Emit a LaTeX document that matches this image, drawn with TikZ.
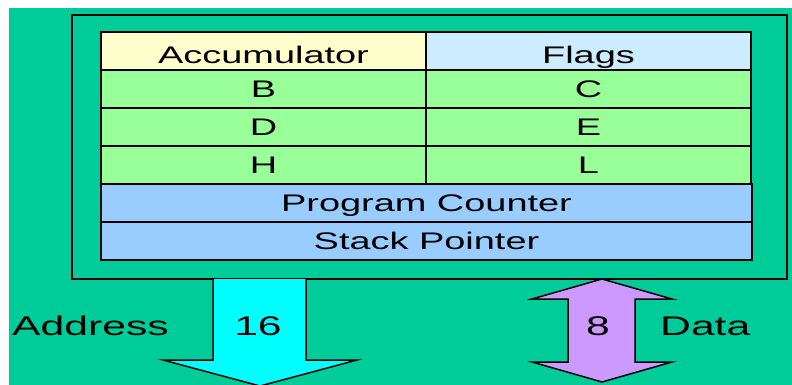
\documentclass[tikz,border=0pt]{standalone}
\usepackage{fontspec}
\setmainfont{Liberation Sans}[FakeStretch=1.58]
\usetikzlibrary{positioning}
\definecolor{fondoV}{HTML}{00CC99}
\definecolor{amarilloC}{HTML}{FFFFCC}
\definecolor{celesteC}{HTML}{CCECFF}
\definecolor{verdeR}{HTML}{99FF99}
\definecolor{azulR}{HTML}{99CCFF}
\definecolor{cianF}{HTML}{00FFFF}
\definecolor{violetaF}{HTML}{CC99FF}

\begin{document}
\begin{tikzpicture}[x=1pt,y=-1pt,
    reg/.style={draw=black,line width=1.2pt,minimum width=325pt,minimum height=38pt,
      inner sep=0pt,outer sep=0pt,font=\fontsize{24}{24}\selectfont,
      text height=17pt,text depth=0pt},
    cabecera/.style={reg,text height=25pt},
    ancho/.style={reg,minimum width=651pt,fill=azulR},
    etiq/.style={inner sep=0pt,font=\fontsize{27}{27}\selectfont,text height=19.3pt,text depth=0pt},
    flecha/.style={draw=black,line width=1.5pt,line join=miter}]
  \useasboundingbox (0,0) rectangle (792,385);
  \fill[white] (0,0) rectangle (792,385);
  \fill[fondoV] (9,8) rectangle (792,385);
  % CPU frame
  \node[draw=black,line width=2pt,minimum width=715pt,minimum height=264pt,
    inner sep=0pt,outer sep=0pt,anchor=north west] (cpu) at (72,15) {};
  % register pairs
  \node[cabecera,fill=amarilloC,anchor=north west] (acc) at (101,32) {Accumulator};
  \node[cabecera,fill=celesteC,right=0pt of acc] (flags) {Flags};
  \node[reg,fill=verdeR,below=0pt of acc] (regB) {B};
  \node[reg,fill=verdeR,right=0pt of regB] (regC) {C};
  \node[reg,fill=verdeR,below=0pt of regB] (regD) {D};
  \node[reg,fill=verdeR,right=0pt of regD] (regE) {E};
  \node[reg,fill=verdeR,below=0pt of regD] (regH) {H};
  \node[reg,fill=verdeR,right=0pt of regH] (regL) {L};
  \node[ancho,below right=0pt and 0pt of regH.south west] (pc) {Program Counter};
  \node[ancho,below=0pt of pc] (sp) {Stack Pointer};
  % buses
  \filldraw[flecha,fill=cianF] (213,279) -- (213,360) -- (163,360) -- (260,386)
    -- (357,360) -- (306,360) -- (306,279);
  \filldraw[flecha,fill=violetaF] (602,279) -- (672,299) -- (635,299) -- (635,362)
    -- (672,362) -- (602,382) -- (532,362) -- (568,362) -- (568,299)
    -- (532,299) -- cycle;
  \node[etiq,anchor=west] (addrLbl) at (12,326) {Address};
  \node[etiq] (addrAncho) at (258,326) {16};
  \node[etiq] (dataAncho) at (598,326) {8};
  \node[etiq,anchor=west] (dataLbl) at (660,326) {Data};
\end{tikzpicture}
\end{document}
